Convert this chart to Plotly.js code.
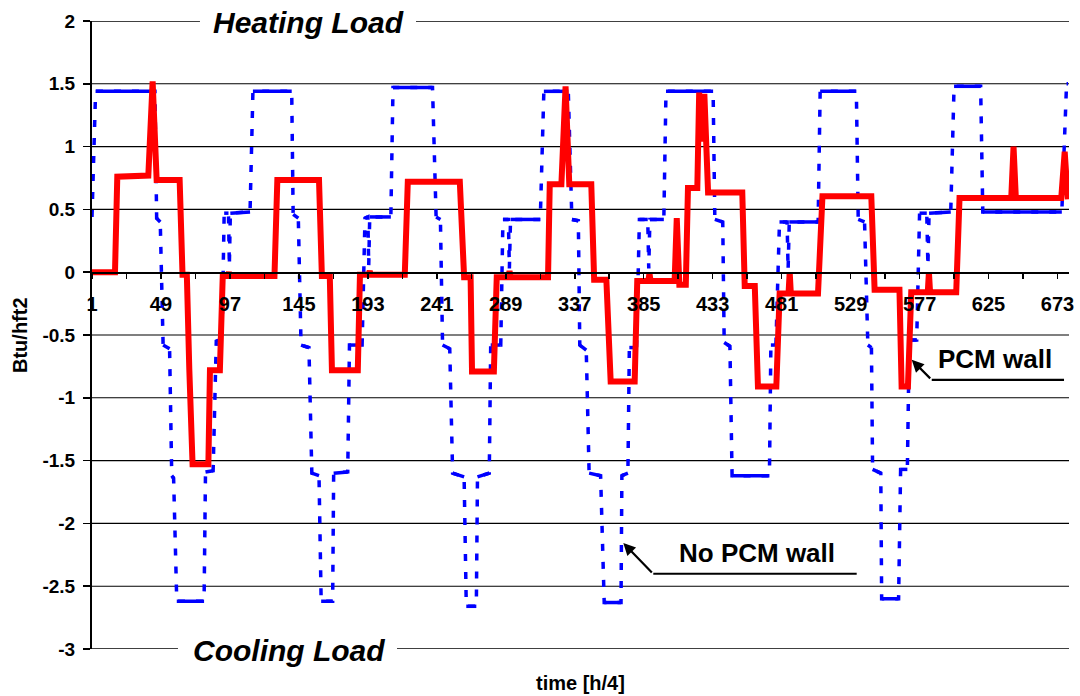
<!DOCTYPE html>
<html>
<head>
<meta charset="utf-8">
<script src="https://cdn.plot.ly/plotly-3.0.1.min.js"></script>
<style>html,body{margin:0;padding:0;background:#fff;}#chart{width:1080px;height:696px;}</style>
</head>
<body>
<div id="chart"></div>
<script>
// ---- data (time index in h/4 steps, load in Btu/hft2) ----
const pcmX = [1,17,18.6,40.2,43.2,46,62,64,67,68.7,71,82,83.1,90,92,95.5,96.3,97,128,130,159,161,166.5,168,186,187.5,193.5,194.3,195,218.7,220.8,257,260,264.5,265.5,280.7,282.7,290.8,291.6,292.4,318.4,319.6,327.7,330.6,333.2,348.5,350.5,359,362,378.7,380.5,388.2,389,389.8,406.5,408,409.8,414.3,415.8,422.3,423.6,425.6,427.2,429.8,453.6,455.3,462.3,464.5,477.3,479.6,485.8,486.6,487.4,506.3,509.4,543.4,545.7,563,564.5,568.9,571.2,582.7,583.5,584.3,602.5,604.8,640.8,642.4,644,675.6,678,680.2];
const pcmY = [0,0,0.76,0.77,1.52,0.735,0.735,-0.02,-0.02,-0.765,-1.53,-1.53,-0.78,-0.78,-0.03,-0.03,0.0,-0.03,-0.03,0.735,0.735,-0.03,-0.03,-0.78,-0.78,-0.02,-0.02,0.01,-0.02,-0.02,0.72,0.72,-0.04,-0.04,-0.79,-0.79,-0.04,-0.04,0.01,-0.04,-0.04,0.70,0.70,1.48,0.70,0.70,-0.06,-0.06,-0.87,-0.87,-0.07,-0.07,-0.01,-0.07,-0.07,0.43,-0.1,-0.1,0.67,0.67,1.43,1.04,1.42,0.635,0.635,-0.11,-0.11,-0.91,-0.91,-0.17,-0.17,0.0,-0.17,-0.17,0.605,0.605,-0.14,-0.14,-0.91,-0.91,-0.16,-0.16,0.0,-0.16,-0.16,0.59,0.59,1.0,0.59,0.59,0.96,0.58];

const noPcmX = [1,3.5,44.8,46,48.5,50.5,55,56.5,57.8,60,79,80,85.3,87.5,91.5,93,96,96.6,97.3,111,113,140,141,144.6,146.5,152,154,159,160.5,168.5,169.2,179,180.2,189,191,193,193.6,194.3,209,210.5,238,240.5,243.5,245,250,252,260,261.5,268.5,269.3,277.5,278.5,285.5,287,290.8,291.5,292.3,313,315.5,332.5,335,339.5,340.5,345,347,355,357.5,369.2,369.8,374,375,380,382,387.8,388.5,389.3,399,400.5,433.3,434.5,440,441,445,446.5,472.5,473.5,477,479.5,484.8,485.5,486.3,506.4,507.8,533,534.3,538.7,541,543.5,544.3,550,550.6,562.4,563.8,568.5,569.8,575,577,582,582.8,583.6,598.7,601,619.5,621,676,679.3,680.3];
const noPcmY = [0.44,1.44,1.44,0.43,0.40,-0.58,-0.61,-1.62,-1.64,-2.62,-2.62,-1.59,-1.58,-0.55,-0.53,0.47,0.47,0.05,0.47,0.48,1.44,1.44,0.46,0.43,-0.58,-0.60,-1.60,-1.62,-2.62,-2.62,-1.60,-1.59,-0.58,-0.58,0.43,0.44,0.05,0.44,0.44,1.47,1.47,0.44,0.42,-0.58,-0.61,-1.60,-1.63,-2.66,-2.66,-1.63,-1.60,-0.58,-0.58,0.42,0.42,0.03,0.42,0.42,1.44,1.44,0.42,0.41,-0.58,-0.62,-1.60,-1.62,-2.63,-2.63,-1.62,-1.60,-0.60,-0.60,0.42,0.42,0.03,0.42,0.42,1.44,1.44,0.42,0.40,-0.56,-0.59,-1.62,-1.62,-0.58,-0.58,0.40,0.40,0.02,0.40,0.40,1.44,1.44,0.42,0.40,-0.58,-0.60,-1.57,-1.60,-2.60,-2.60,-1.57,-1.57,-0.54,-0.54,0.47,0.47,0.05,0.47,0.48,1.48,1.48,0.48,0.48,1.50,1.50];

const xTickLabels = ['1','49','97','145','193','241','289','337','385','433','481','529','577','625','673'];
const xMinorTicks = [25,73,121,169,217,265,313,361,409,457,505,553,601,649];
const yTickVals = [2,1.5,1,0.5,0,-0.5,-1,-1.5,-2,-2.5,-3];
const yTickText = ['2','1.5','1','0.5','0','-0.5','-1','-1.5','-2','-2.5','-3'];

// ---- build ----
const FONT = 'Liberation Sans, Arial, Helvetica, sans-serif';
const tv = [], tt = [];
xTickLabels.forEach(l => { tv.push(Number(l)); tt.push(l); });
xMinorTicks.forEach(v => { tv.push(v); tt.push(''); });

// flat parts of the No-PCM series look solid in the original
const flatX = [], flatY = [];
for (let i = 0; i < noPcmX.length - 1; i++) {
  const dx = noPcmX[i+1] - noPcmX[i];
  const dy = Math.abs(noPcmY[i+1] - noPcmY[i]);
  if (dy / dx < 0.08) {
    flatX.push(noPcmX[i], noPcmX[i+1], null);
    flatY.push(noPcmY[i], noPcmY[i+1], null);
  }
}

const traces = [
  {x: noPcmX, y: noPcmY, mode: 'lines', type: 'scatter', name: 'No PCM wall',
   line: {color: '#0000FF', width: 3.5, dash: '7px,11px', simplify: false}, hoverinfo: 'skip'},
  {x: flatX, y: flatY, mode: 'lines', type: 'scatter', name: 'No PCM wall (flat)',
   line: {color: '#0000FF', width: 3.5, simplify: false}, connectgaps: false, hoverinfo: 'skip'},
  {x: pcmX, y: pcmY, mode: 'lines', type: 'scatter', name: 'PCM wall',
   line: {color: '#FF0000', width: 6, simplify: false}, hoverinfo: 'skip'}
];

// horizontal grid lines
const shapes = [];
yTickVals.forEach(v => {
  if (v === 0) return;
  if (v === 2) {
    shapes.push({type:'line', xref:'paper', yref:'y', x0:0, x1:0.1105, y0:v, y1:v, line:{color:'black', width:1.3}});
    shapes.push({type:'line', xref:'paper', yref:'y', x0:0.3316, x1:1, y0:v, y1:v, line:{color:'black', width:1.3}});
  } else if (v === -3) {
    shapes.push({type:'line', xref:'paper', yref:'y', x0:0, x1:0.088, y0:v, y1:v, line:{color:'black', width:1.6}});
    shapes.push({type:'line', xref:'paper', yref:'y', x0:0.3122, x1:1, y0:v, y1:v, line:{color:'black', width:1.6}});
  } else {
    shapes.push({type:'line', xref:'paper', yref:'y', x0:0, x1:1, y0:v, y1:v, line:{color:'black', width:1.1}, layer:'below'});
  }
});
// label underlines
shapes.push({type:'line', xref:'paper', yref:'paper', x0:0.8595, x1:0.9949, y0:0.4286, y1:0.4286, line:{color:'black', width:2.2}});
shapes.push({type:'line', xref:'paper', yref:'paper', x0:0.5745, x1:0.7827, y0:0.1198, y1:0.1198, line:{color:'black', width:2.2}});

const annotations = [
  {text:'Heating Load', xref:'paper', yref:'paper', x:0.2221, y:0.9976, xanchor:'center', yanchor:'middle', showarrow:false,
   font:{family:FONT, size:30, color:'black', weight:'bold', style:'italic'}},
  {text:'Cooling Load', xref:'paper', yref:'paper', x:0.2016, y:-0.0027, xanchor:'center', yanchor:'middle', showarrow:false,
   font:{family:FONT, size:30, color:'black', weight:'bold', style:'italic'}},
  {text:'PCM wall', xref:'paper', yref:'paper', x:0.9246, y:0.462, xanchor:'center', yanchor:'middle', showarrow:false,
   font:{family:FONT, size:26, color:'black', weight:'bold'}},
  {text:'No PCM wall', xref:'paper', yref:'paper', x:0.6804, y:0.1533, xanchor:'center', yanchor:'middle', showarrow:false,
   font:{family:FONT, size:26, color:'black', weight:'bold'}},
  {text:'', xref:'paper', yref:'paper', x:0.839, y:0.4604, showarrow:true, ax:20, ay:20,
   arrowhead:2, arrowsize:1.1, arrowwidth:2.2, arrowcolor:'black', standoff:0},
  {text:'', xref:'paper', yref:'paper', x:0.5438, y:0.1687, showarrow:true, ax:30, ay:31,
   arrowhead:2, arrowsize:1.1, arrowwidth:2.2, arrowcolor:'black', standoff:0},
  {text:'time [h/4]', xref:'paper', yref:'paper', x:0.5, y:-0.0536, xanchor:'center', yanchor:'middle', showarrow:false,
   font:{family:FONT, size:20, color:'black', weight:'bold'}},
  {text:'Btu/hft2', xref:'paper', yref:'paper', x:-0.0737, y:0.5, xanchor:'center', yanchor:'middle', textangle:-90, showarrow:false,
   font:{family:FONT, size:20, color:'black', weight:'bold'}}
];

const layout = {
  width:1080, height:696,
  margin:{l:92, r:11, t:21, b:47, pad:0},
  paper_bgcolor:'white', plot_bgcolor:'white',
  showlegend:false, hovermode:false,
  font:{family:FONT, color:'black'},
  xaxis:{type:'linear', range:[1,681], anchor:'free', position:0.6,
    showline:true, linecolor:'black', linewidth:1.5, showgrid:false, zeroline:false,
    ticks:'outside', ticklen:5, tickwidth:1.5, tickcolor:'black',
    tickmode:'array', tickvals:tv, ticktext:tt, ticklabelstandoff:8,
    tickfont:{family:FONT, size:20, color:'black', weight:'bold'}},
  yaxis:{range:[-3,2], showline:true, linecolor:'black', linewidth:2, showgrid:false, zeroline:false,
    ticks:'outside', ticklen:7, tickwidth:1.5, tickcolor:'black',
    tickmode:'array', tickvals:yTickVals, ticktext:yTickText, ticklabelstandoff:4,
    tickfont:{family:FONT, size:19, color:'black', weight:'bold'}},
  shapes:shapes, annotations:annotations
};

Plotly.newPlot('chart', traces, layout, {staticPlot:true, displayModeBar:false});
</script>
</body>
</html>
